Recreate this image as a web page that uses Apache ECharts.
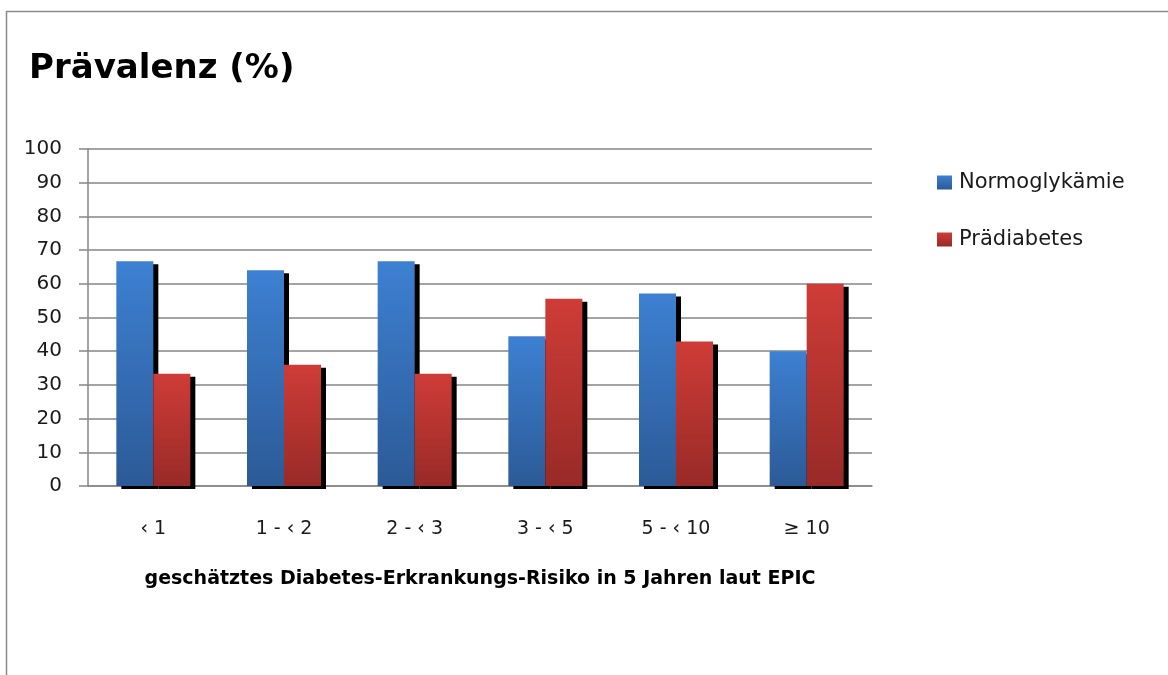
<!DOCTYPE html>
<html>
<head>
<meta charset="utf-8">
<style>
  html, body { margin: 0; padding: 0; background: #ffffff; }
  #chart { width: 1168px; height: 675px; }
</style>
<script src="https://cdn.jsdelivr.net/npm/echarts@6/dist/echarts.min.js"></script>
</head>
<body>
<div id="chart"></div>
<script>
// Risikogruppen (EPIC-Score) und Anteile je Gruppe in Prozent
const categories = ['\u2039 1', '1 - \u2039 2', '2 - \u2039 3', '3 - \u2039 5', '5 - \u2039 10', '\u2265 10'];
const normoglykaemie = [66.7, 64.0, 66.7, 44.4, 57.1, 40.0];
const praediabetes = [33.3, 36.0, 33.3, 55.6, 42.9, 60.0];
const seriesNames = ['Normoglykämie', 'Prädiabetes'];
const yTicks = { min: 0, max: 100, interval: 10 };

const FONT = '"DejaVu Sans", "Open Sans", sans-serif';

function vGrad(top, bottom) {
  return new echarts.graphic.LinearGradient(0, 0, 0, 1, [
    { offset: 0, color: top },
    { offset: 1, color: bottom }
  ]);
}

const barShadow = {
  shadowColor: '#000000',
  shadowBlur: 0,
  shadowOffsetX: 5,
  shadowOffsetY: 3
};

const chart = echarts.init(document.getElementById('chart'), null, { renderer: 'canvas' });

chart.setOption({
  animation: false,
  backgroundColor: '#ffffff',
  graphic: [
    // Rahmen oben und links
    { type: 'line', shape: { x1: 6, y1: 11.5, x2: 1168, y2: 11.5 }, style: { stroke: '#8a8a8a', lineWidth: 1.5 }, silent: true },
    { type: 'line', shape: { x1: 6.5, y1: 11, x2: 6.5, y2: 675 }, style: { stroke: '#8a8a8a', lineWidth: 1.5 }, silent: true }
  ],
  title: {
    text: 'Prävalenz (%)',
    left: 24,
    top: 47,
    textStyle: { fontFamily: FONT, fontWeight: 'bold', fontSize: 34, color: '#000000' }
  },
  legend: {
    orient: 'vertical',
    left: 932,
    top: 167,
    itemWidth: 15,
    itemHeight: 14,
    itemGap: 36,
    icon: 'rect',
    data: seriesNames,
    textStyle: { fontFamily: FONT, fontSize: 21, lineHeight: 20, color: '#1a1a1a', padding: [0, 0, 0, 2] }
  },
  grid: { left: 88, right: 296, top: 149, bottom: 189, containLabel: false },
  xAxis: {
    type: 'category',
    data: categories,
    name: 'geschätztes Diabetes-Erkrankungs-Risiko in 5 Jahren laut EPIC',
    nameLocation: 'middle',
    nameGap: 84,
    nameTextStyle: { fontFamily: FONT, fontWeight: 'bold', fontSize: 19, color: '#000000' },
    axisLine: { show: true, lineStyle: { color: '#868686', width: 1.5 } },
    axisTick: { show: false },
    axisLabel: { margin: 34, fontFamily: FONT, fontSize: 19, color: '#1a1a1a' },
    splitLine: { show: false }
  },
  yAxis: {
    type: 'value',
    min: yTicks.min,
    max: yTicks.max,
    interval: yTicks.interval,
    axisLine: { show: true, lineStyle: { color: '#868686', width: 1.5 } },
    axisTick: { show: true, inside: false, length: 9, lineStyle: { color: '#868686', width: 1.5 } },
    axisLabel: { margin: 26, fontFamily: FONT, fontSize: 20, color: '#1a1a1a' },
    splitLine: { show: true, lineStyle: { color: '#868686', width: 1.5 } }
  },
  series: [
    {
      name: seriesNames[0],
      type: 'bar',
      data: normoglykaemie,
      barWidth: 37,
      barGap: '0%',
      itemStyle: Object.assign({ color: vGrad('#3d80d2', '#2c5a97') }, barShadow)
    },
    {
      name: seriesNames[1],
      type: 'bar',
      data: praediabetes,
      barWidth: 37,
      barGap: '0%',
      itemStyle: Object.assign({ color: vGrad('#cf3c37', '#982a27') }, barShadow)
    }
  ]
});
</script>
</body>
</html>
